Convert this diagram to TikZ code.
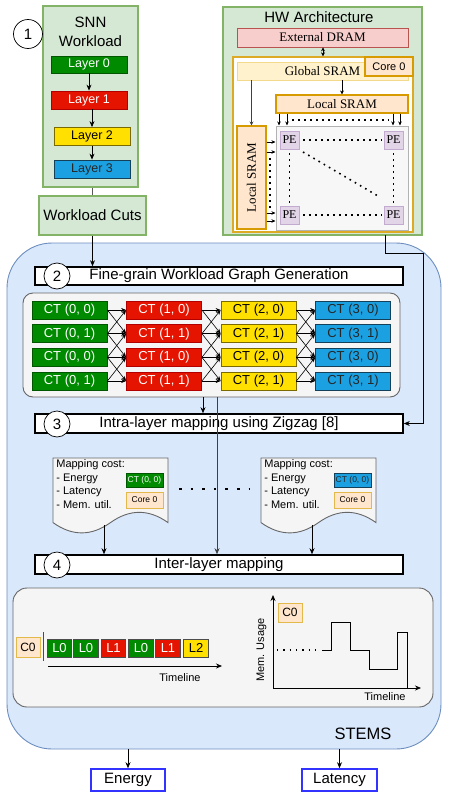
\documentclass[tikz,border=0pt]{standalone}
\usepackage{fontspec}
\setmainfont{Liberation Sans}
\newfontfamily\hwserif{Liberation Serif}
\usetikzlibrary{shapes,arrows,arrows.meta,calc,positioning}
\newcommand{\fsz}[1]{\fontsize{#1}{#1}\selectfont}

\tikzstyle{every picture}+=[font=\rmfamily]
\tikzstyle{blk}=[draw, inner sep=0pt, align=center]
\tikzstyle{num}=[circle, draw, fill=white, inner sep=0pt, minimum size=26pt, font=\fsz{15}]
\tikzstyle{stagebar}=[draw, line width=1.6pt, fill=white, inner sep=0pt, minimum width=368pt, minimum height=18pt, font=\fsz{15}]
\tikzstyle{ct}=[blk, line width=0.8pt, minimum width=75pt, minimum height=18pt, font=\fsz{13}]
\tikzstyle{ctarr}=[-{Stealth[length=5pt,width=4pt]}, line width=0.6pt]
\tikzstyle{lbox}=[blk, line width=0.8pt, minimum width=24.5pt, minimum height=18pt, font=\fsz{13}]
\tikzstyle{pe}=[blk, fill=pefill, draw=peline, minimum width=19pt, minimum height=18pt, font=\hwserif\fsz{12}]
\tikzstyle{pedots}=[line width=1.6pt, dash pattern=on 1.6pt off 4.4pt]
\tikzstyle{outbox}=[blk, draw=outline, line width=1.6pt, fill=white, minimum height=22pt, font=\fsz{15}]
\tikzset{sz/.style 2 args={minimum width=#1, minimum height=#2}}

%% one mapping-cost sheet: name, x, y, CT fill, CT border, CT text
\newcommand{\costdoc}[6]{%
  \begin{scope}[shift={(#2,#3)}]
    \draw[draw=panelline, fill=panelfill, line width=0.9pt] (0,0) -- (115,0) -- (115,64.6)
      .. controls (95.8,50.9) and (76.7,50.9) .. (57.5,64.6)
      .. controls (38.3,78.3) and (19.2,78.3) .. (0,64.6) -- cycle;
    \node[anchor=north west, align=left, inner sep=1pt, font=\fontsize{11}{13.7}\selectfont] (#1txt) at (2,0)
      {Mapping cost:\\- Energy\\- Latency\\- Mem. util.};
    \node[blk, sz={37}{14}, fill=#4, draw=#5, line width=0.9pt, text=#6, font=\fsz{8.5}] (#1ct) at (91.5,22) {CT (0, 0)};
    \node[blk, sz={37}{16}, fill=sramfill, draw=sramline!70, line width=0.9pt, font=\fsz{8.5}] (#1core) at (91.5,42) {Core 0};
    \coordinate (#1out) at (51,67);
  \end{scope}}

\begin{document}
\begin{tikzpicture}[x=1pt, y=-1pt, >={Stealth[length=6pt,width=5pt]}, line width=0.7pt]

\definecolor{snnfill}{HTML}{D5E8D4}
\definecolor{snnline}{HTML}{82B366}
\definecolor{lay0}{HTML}{008A00} \definecolor{lay0l}{HTML}{005700}
\definecolor{lay1}{HTML}{E51400} \definecolor{lay1l}{HTML}{B20000}
\definecolor{lay2}{HTML}{FFE000} \definecolor{lay2l}{HTML}{7A6A00}
\definecolor{lay3}{HTML}{1BA1E2} \definecolor{lay3l}{HTML}{15405A}
\definecolor{dramfill}{HTML}{F8CECC} \definecolor{dramline}{HTML}{B85450}
\definecolor{sramfill}{HTML}{FFE6CC} \definecolor{sramline}{HTML}{D79B00}
\definecolor{gsramfill}{HTML}{FFF2CC} \definecolor{gsramline}{HTML}{F2D98C}
\definecolor{pefill}{HTML}{E1D5E7} \definecolor{peline}{HTML}{C3ABD0}
\definecolor{stemsfill}{HTML}{DAE8FC} \definecolor{stemsline}{HTML}{6C8EBF}
\definecolor{panelfill}{HTML}{F5F5F5} \definecolor{panelline}{HTML}{666666}
\definecolor{outline}{HTML}{3333FF}

\useasboundingbox (0,0) rectangle (448,795);

%% SNN workload
\node[blk, sz={95}{181}, fill=snnfill, draw=snnline, line width=1.4pt] (snn) at (90.5,96.5) {};
\node[font=\fontsize{15}{19}\selectfont, align=center] (snntitle) at (90.5,31.5) {SNN\\Workload};
\node[num, minimum size=29pt] (n1) at (28,34) {1};
\node[lbox, sz={76}{17}, fill=lay0, draw=lay0l, text=white, font=\fsz{12.5}] (layer0) at (89,64.5) {Layer 0};
\node[lbox, sz={76}{18}, fill=lay1, draw=lay1l, text=white, font=\fsz{12.5}] (layer1) at (89,100) {Layer 1};
\node[lbox, sz={76}{18}, fill=lay2, draw=lay2l, font=\fsz{12.5}] (layer2) at (92,136.5) {Layer 2};
\node[lbox, sz={76}{18}, fill=lay3, draw=lay3l, text=black!85, font=\fsz{12.5}] (layer3) at (92,169) {Layer 3};
\draw[->] (layer0) -- (layer1);
\draw[->] (layer1.south -| layer2.north) -- (layer2.north);
\draw[->] (layer2) -- (layer3);

\node[blk, sz={107}{39}, fill=snnfill, draw=snnline, line width=1.4pt, font=\fsz{15}] (cuts) at (92.5,215.5) {Workload Cuts};
\draw[black!65] (snn.south -| cuts.north) -- (cuts.north);

%% HW architecture
\node[blk, sz={199}{228}, fill=snnfill, draw=snnline, line width=1.2pt] (hw) at (322.5,121) {};
\node[font=\fsz{15}] (hwtitle) at (319,17) {HW Architecture};
\node[blk, sz={171}{19}, fill=dramfill, draw=dramline, font=\hwserif\fsz{13}] (dram) at (322.5,37.5) {External DRAM};
\node[blk, sz={180}{175}, fill=white, draw=sramline!85, line width=1.3pt] (core) at (323,144.5) {};
\node[blk, sz={171}{18}, fill=gsramfill, draw=gsramline, font=\hwserif\fsz{13}] (gsram) at (322.5,71) {Global SRAM};
\node[blk, sz={48}{19}, fill=sramfill, draw=sramline, line width=1.1pt, font=\fsz{11}] (core0) at (389,66.5) {Core 0};
\node[blk, sz={132}{18}, fill=sramfill, draw=sramline, line width=1.1pt, font=\hwserif\fsz{13}] (lstop) at (342,104) {Local SRAM};
\node[blk, sz={103}{29}, rotate=90, fill=sramfill, draw=sramline, line width=1.1pt, font=\hwserif\fsz{13}] (lsleft) at (251.5,177.5) {Local SRAM};
\node[blk, sz={132}{104}, fill=black!3, draw=black!30, line width=1pt] (pearr) at (342,178) {};
\draw[<->, >={Stealth[length=4pt,width=4pt]}] (dram.south -| core.north) -- (core.north);
\draw[->, >={Stealth[length=4pt,width=4pt]}] (gsram.south -| lstop.north) -- (lstop.north);
\draw[->, >={Stealth[length=4pt,width=4pt]}, black!75] (gsram.south -| lsleft.east) -- (lsleft.east);
\foreach \px in {279,287,393,400}
  \draw[->, >={Stealth[length=4pt,width=3.5pt]}] (\px,0 |- lstop.south) -- (\px,0 |- pearr.north);
\foreach \py in {142,152,213,221}
  \draw[->, >={Stealth[length=4pt,width=3.5pt]}] (lsleft.south |- 0,\py) -- (pearr.west |- 0,\py);
\draw[pedots, line width=1.3pt] (292,120) -- (389,120);
\draw[pedots, line width=1.3pt] (270,158) -- (270,209);
\node[pe] (pe00) at (289.5,140) {PE};
\node[pe] (pe01) at (393.5,140) {PE};
\node[pe] (pe10) at (289.5,215) {PE};
\node[pe] (pe11) at (393.5,215) {PE};
\draw[pedots] (pe00.east) ++(4,0) -- ($(pe01.west)+(-2,0)$);
\draw[pedots] (pe10.east) ++(4,0) -- ($(pe11.west)+(-2,0)$);
\draw[pedots] (pe00.south) ++(0,4) -- ($(pe10.north)+(0,-2)$);
\draw[pedots] (pe01.south) ++(0,4) -- ($(pe11.north)+(0,-2)$);
\draw[pedots] (303,152) -- (378,196);
\coordinate (hwout) at (385,235);

%% STEMS framework
\node[blk, sz={434}{506}, fill=stemsfill, draw=stemsline, line width=0.9pt, rounded corners=45pt] (stems) at (224,496) {};
\node[font=\fsz{16.5}] (stemslbl) at (363,734) {STEMS};

\node[stagebar] (gen) at (219,276) {Fine-grain Workload Graph Generation};
\node[num] (n2) at (57,276) {2};

\node[blk, sz={377}{104}, fill=panelfill, draw=panelline, line width=0.9pt, rounded corners=10pt] (ctpanel) at (211.5,345) {};
\foreach \c/\fc/\lc/\tc in {0/lay0/lay0l/white, 1/lay1/lay1l/white, 2/lay2/lay2l/black, 3/lay3/lay3l/black!85}
  \foreach \r in {0,...,3}{
    \pgfmathtruncatemacro\k{mod(\r,2)}
    \node[ct, fill=\fc, draw=\lc, text=\tc] (ct\c\r) at (69.5+94.5*\c, 310+23.67*\r) {CT (\c, \k)};
  }
\foreach \c in {0,1,2}{
  \pgfmathtruncatemacro\d{\c+1}
  \foreach \r/\s in {0/0,0/1,1/0,1/1,1/2,2/1,2/2,2/3,3/2,3/3}
    \draw[ctarr] (ct\c\r.east) -- (ct\d\s.west);
}

\node[stagebar, minimum height=19pt] (intra) at (219,423.5) {Intra-layer mapping using Zigzag [8]};
\node[num] (n3) at (57,424) {3};

\costdoc{docA}{53}{458}{lay0}{lay0l}{white}
\costdoc{docB}{261}{458}{lay3}{lay3l}{black!85}
\draw[line width=2.6pt, dash pattern=on 2.6pt off 9pt] (179,489) -- (250,489);

\node[stagebar, minimum height=19pt] (inter) at (219,564.5) {Inter-layer mapping};
\node[num] (n4) at (57,565) {4};

%% schedule and memory trace
\node[blk, sz={420}{119}, fill=panelfill, draw=panelline, line width=0.9pt, rounded corners=14pt] (sched) at (223,647.5) {};
\node[blk, sz={24}{20}, fill=sramfill, draw=sramline!70, line width=1pt, font=\fsz{12}] (c0a) at (28,647) {C0};
\draw[black!70, line width=1pt] (43,632) -- (43,661);
\node[lbox, fill=lay0, draw=black!70, text=white] (s1) at (59.5,648) {L0};
\node[lbox, fill=lay0, draw=black!70, text=white] (s2) at (86,648) {L0};
\node[lbox, fill=lay1, draw=black!70, text=white] (s3) at (113.5,648) {L1};
\node[lbox, fill=lay0, draw=black!70, text=white] (s4) at (141,648) {L0};
\node[lbox, fill=lay1, draw=black!70, text=white] (s5) at (168,648) {L1};
\node[lbox, fill=lay2, draw=black!70] (s6) at (196,648) {L2};
\coordinate (tl0) at (48,666);
\draw[->] (tl0) -- (222,666);
\node[font=\fsz{11}] (tl1) at (180,678) {Timeline};

\coordinate (orig) at (273,688);
\draw[->] (orig) -- (273,595);
\draw[->] (orig) -- (421,688);
\node[rotate=90, font=\fsz{11}] (memlbl) at (261.5,650) {Mem. Usage};
\node[font=\fsz{11}] (tl2) at (385,697) {Timeline};
\node[blk, sz={24}{19}, fill=sramfill, draw=sramline!70, line width=1pt, font=\fsz{12}] (c0b) at (290,612.5) {C0};
\draw[line width=1.3pt, dash pattern=on 1.3pt off 5pt] (277,650) -- (318,650);
\draw[line width=0.9pt] (322,650) -- (331,650) -- (331,622) -- (350,622) -- (350,650) -- (369,650)
  -- (369,669) -- (397,669) -- (397,632) -- (407,632) -- (407,688);

%% flows
\draw[->] (cuts.south) -- (cuts.south |- gen.north);
\draw[->] (hwout) -- ++(0,18) -- ++(38,0) |- (intra.east);
\draw[->] (203,0 |- ctpanel.south) -- (203,0 |- intra.north);
\draw[->, black!75] (217,0 |- ctpanel.south) -- (217,0 |- inter.north);
\draw[->] (docAout) -- (docAout |- inter.north);
\draw[->] (docBout) -- (docBout |- inter.north);

\node[outbox, minimum width=74pt] (energy) at (128,780) {Energy};
\node[outbox, minimum width=75pt] (latency) at (339.5,780) {Latency};
\draw[->] (stems.south -| energy.north) -- (energy.north);
\draw[->] (stems.south -| latency.north) -- (latency.north);

\end{tikzpicture}
\end{document}
